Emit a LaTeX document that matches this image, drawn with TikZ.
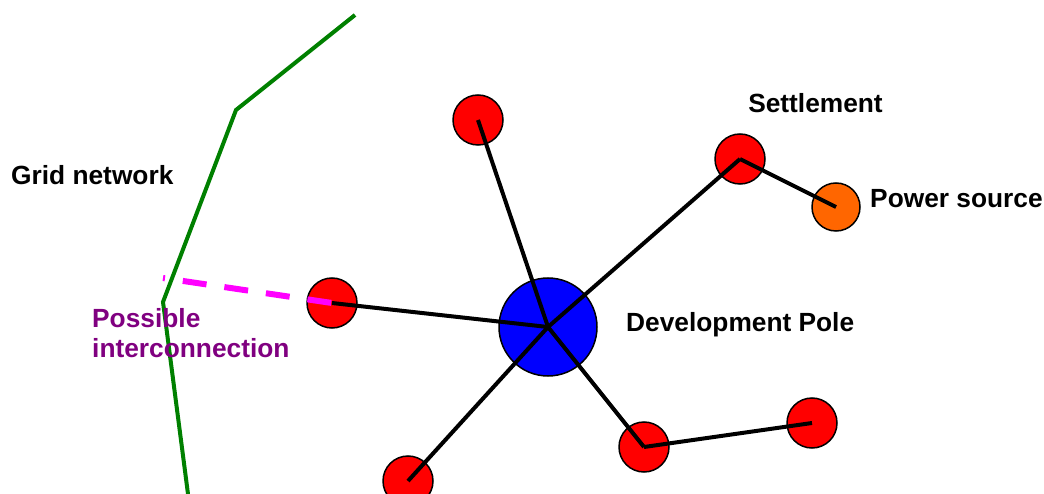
\documentclass[tikz,border=0pt]{standalone}
\usepackage{fontspec}
\setmainfont{Liberation Sans}
\definecolor{gridgreen}{HTML}{008000}
\definecolor{srcorange}{HTML}{FF6600}
\definecolor{linkpurple}{HTML}{800080}
\definecolor{linkpink}{HTML}{FF00FF}
\tikzset{
  village/.style={circle, draw, line width=1.5pt, fill=red, minimum size=50pt, inner sep=0pt},
  pole/.style={circle, draw, line width=1.5pt, fill=blue, minimum size=98pt, inner sep=0pt},
  source/.style={circle, draw, line width=1.5pt, fill=srcorange, minimum size=48pt, inner sep=0pt},
  link/.style={line width=4pt},
  tag/.style={inner sep=0pt, font=\fontsize{26.3}{30}\selectfont\bfseries}
}

\begin{document}
\begin{tikzpicture}[x=1pt, y=-1pt]
\clip (0,0) rectangle (1044,494);

% Grid network
\draw[gridgreen, line width=4pt] (355,15) -- (236,110) -- (163,302) -- (188,494);
\coordinate (tap) at (163,278);

% Development pole and settlements
\node[pole] (pole) at (548,327) {};
\node[village] (s1) at (478,120) {};
\node[village] (s2) at (740,159) {};
\node[village] (s3) at (332,303) {};
\node[village] (s4) at (408,481) {};
\node[village] (s5) at (644,447) {};
\node[village] (s6) at (812,423) {};
\node[source] (src) at (836,207) {};

% Links
\foreach \s in {s1,s2,s3,s4,s5} {
  \draw[link] (pole.center) -- (\s.center);
}
\draw[link] (s2.center) -- (src.center);
\draw[link] (s5.center) -- (s6.center);

% Possible interconnection
\draw[linkpink, line width=6pt, dash pattern=on 24pt off 18pt, dash phase=22pt] (tap) -- (s3.center);

% Labels
\node[tag, anchor=base] (lset) at (815.5,113) {Settlement};
\node[tag, anchor=base west] (lsrc) at (870,208) {Power source};
\node[tag, anchor=base west] (lgrid) at (11,185) {Grid network};
\node[tag, anchor=base west] (lpole) at (626,331) {Development Pole};
\node[tag, anchor=base west, text=linkpurple, align=left] (llink) at (92,357) {Possible\\interconnection};

\end{tikzpicture}
\end{document}
